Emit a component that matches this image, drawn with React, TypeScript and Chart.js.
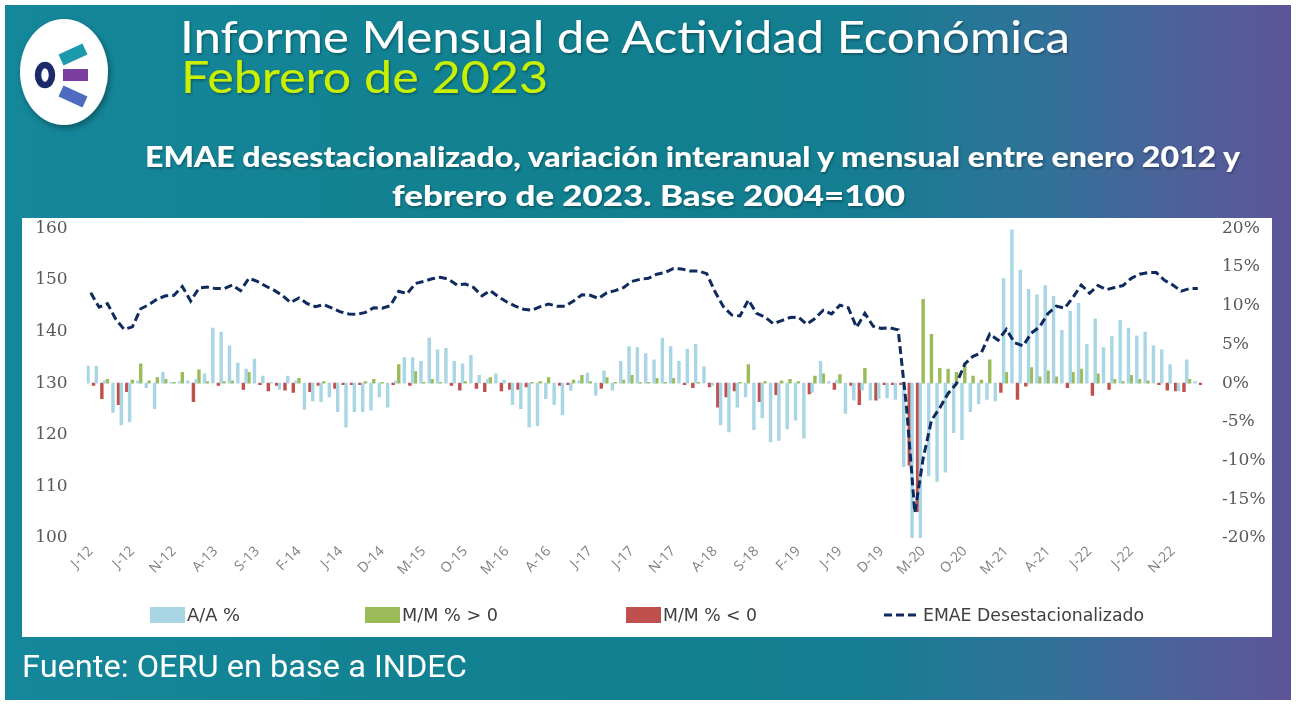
import React, { useEffect, useRef } from "react";
import { Chart, registerables } from "chart.js";

Chart.register(...registerables);

// ---- Data (Jan 2012 .. Feb 2023) ----
const MONTH_INITIALS = ["J", "F", "M", "A", "M", "J", "J", "A", "S", "O", "N", "D"];
const FIRST_YEAR_2D = 12;

// Interannual variation (A/A %)
const AA = [
  2.2, 2.2, 0.3, -3.8, -5.4, -5.0, 0.3, -0.6, -3.3, 1.4, 0.1, 0.2,
  0.3, 0.5, 1.2, 7.1, 6.6, 4.8, 2.6, 1.8, 3.1, 0.9, 0.1, -0.8,
  0.9, 0.3, -3.4, -2.3, -2.4, -1.8, -3.7, -5.7, -3.7, -3.7, -3.5, -1.8,
  -3.1, 0.3, 3.3, 3.3, 2.8, 5.8, 4.3, 4.5, 2.8, 2.5, 3.6, 1.0,
  0.5, 1.2, 0.4, -2.8, -3.3, -5.7, -5.5, -2.0, -2.8, -4.1, -0.9, 0.3,
  1.3, -1.6, 1.6, -0.9, 2.8, 4.7, 4.6, 3.8, 3.0, 5.8, 4.7, 2.8,
  4.4, 5.0, 2.1, -0.3, -5.4, -6.3, -3.1, -1.8, -6.0, -4.5, -7.6, -7.4,
  -5.9, -4.8, -7.1, -1.2, 2.8, 0.2, 0.4, -3.9, -2.2, -0.9, -2.2, -2.0,
  -1.9, -2.1, -10.8, -25.4, -20.0, -12.0, -12.7, -11.5, -6.4, -7.3, -3.7, -2.7,
  -2.1, -2.3, 13.5, 19.8, 14.6, 12.1, 11.4, 12.6, 11.2, 6.8, 9.3, 10.3,
  5.0, 8.3, 4.6, 6.0, 8.1, 7.1, 6.1, 6.6, 4.8, 4.3, 2.4, -1.0,
  3.0, 0.2,
];

// Monthly variation (M/M %)
const MM = [
  -0.3, -2.0, 0.5, -2.8, -1.1, 0.4, 2.5, 0.3, 0.7, 0.5, 0.1, 1.4,
  -2.4, 1.7, 0.2, -0.3, 0.2, 0.3, -0.8, 1.4, -0.2, -1.0, -0.3, -0.9,
  -1.2, 0.6, -1.1, -0.3, 0.2, -0.7, -0.2, -0.2, -0.2, 0.2, 0.5, 0.1,
  -0.2, 2.4, -0.3, 1.5, 0.1, 0.5, 0.1, -0.3, -0.9, 0.2, -0.7, -1.1,
  0.7, -1.0, -0.8, -0.8, -0.5, 0.1, 0.2, 0.7, -0.3, -0.2, 0.4, 1.0,
  0.2, -0.7, 0.7, 0.1, 0.4, 1.0, 0.1, 0.1, 0.6, 0.1, 0.6, -0.2,
  -0.6, 0.1, -0.5, -3.1, -1.8, -1.0, 0.1, 2.4, -2.4, 0.2, -1.5, 0.3,
  0.5, 0.2, -1.4, 0.9, 1.2, -0.8, 1.1, -0.3, -2.8, 1.9, -2.2, -0.2,
  -0.2, -0.2, -10.6, -16.6, 10.8, 6.3, 1.9, 1.8, 1.4, 2.4, 0.9, 0.4,
  3.0, -1.2, 1.4, -2.1, -0.4, 2.0, 0.8, 1.6, 0.8, -0.6, 1.4, 1.8,
  -1.6, 1.2, -0.8, 0.5, 0.2, 1.0, 0.5, 0.3, -0.2, -0.9, -1.0, -1.1,
  0.5, -0.2,
];

// EMAE seasonally adjusted (base 2004 = 100)
const EMAE = [
  147.5, 144.7, 145.4, 142.4, 140.4, 140.9, 144.4, 145.2, 146.3, 146.9, 147.0, 148.7,
  145.9, 148.4, 148.6, 148.3, 148.3, 149.0, 147.9, 150.3, 149.7, 148.8, 148.0, 147.0,
  145.6, 146.5, 145.4, 144.8, 145.2, 144.5, 143.8, 143.4, 143.3, 143.7, 144.6, 144.5,
  145.0, 147.8, 147.3, 149.3, 149.7, 150.2, 150.5, 150.1, 149.0, 149.2, 148.5, 146.9,
  147.9, 146.7, 145.7, 144.9, 144.3, 144.1, 144.8, 145.3, 144.9, 144.9, 145.9, 147.1,
  147.0, 146.4, 147.5, 147.9, 148.5, 149.7, 150.1, 150.3, 151.1, 151.4, 152.2, 152.1,
  151.7, 151.7, 151.2, 147.7, 144.8, 143.2, 143.0, 146.1, 143.5, 142.8, 141.5, 142.1,
  142.7, 142.8, 141.4, 142.5, 144.1, 143.4, 145.1, 144.6, 140.8, 143.5, 141.0, 140.6,
  140.7, 140.3, 125.4, 104.9, 115.4, 122.8, 125.2, 128.0, 129.9, 133.7, 135.2, 135.9,
  139.5, 138.3, 140.4, 137.8, 137.2, 139.7, 140.9, 143.5, 144.9, 144.5, 146.6, 149.0,
  147.4, 148.9, 148.1, 148.5, 148.9, 150.3, 151.1, 151.4, 151.4, 149.9, 149.0, 147.8,
  148.3, 148.3,
];

const LABELS = AA.map(
  (_, i) => `${MONTH_INITIALS[i % 12]}-${FIRST_YEAR_2D + Math.floor(i / 12)}`
);
const LABEL_STEP = 5;

const LEFT_MIN = 100;
const LEFT_MAX = 160;
const LEFT_STEP = 10;
const RIGHT_MIN = -20;
const RIGHT_MAX = 20;
const RIGHT_STEP = 5;

const SERIES_NAMES = ["A/A %", "M/M % > 0", "M/M % < 0", "EMAE Desestacionalizado"];

// ---- Styles ----
const BLUE = "#a8d6e4";
const GREEN = "#9bbb59";
const RED = "#c0504d";
const NAVY = "#0f2a5f";
const AXIS_TEXT = "#595959";
const SERIF = "'DejaVu Serif', 'Liberation Serif', serif";
const NARROW = "'Liberation Sans Narrow', 'DejaVu Sans Condensed', 'Roboto', sans-serif";

const BOX = { left: 22, top: 218, width: 1250, height: 419 };
const CANVAS_H = 400;
const PLOT_TOP_PAD = 10;
const PLOT_H = 310;
const LEFT_AXIS_W = 64.6;
const RIGHT_AXIS_W = 70;

export default function App() {
  const ref = useRef<HTMLCanvasElement>(null);

  useEffect(() => {
    if (!ref.current) return;
    const chart = new Chart(ref.current, {
      type: "bar",
      data: {
        labels: LABELS,
        datasets: [
          {
            type: "line",
            label: SERIES_NAMES[3],
            data: EMAE,
            yAxisID: "y",
            borderColor: NAVY,
            backgroundColor: NAVY,
            borderWidth: 3,
            borderDash: [8, 4],
            pointRadius: 0,
            tension: 0,
            fill: false,
            order: 0,
          } as any,
          {
            type: "bar",
            label: SERIES_NAMES[0],
            data: AA,
            yAxisID: "y1",
            backgroundColor: BLUE,
            categoryPercentage: 1,
            barPercentage: 1,
            clip: 0,
            order: 1,
          } as any,
          {
            type: "bar",
            label: SERIES_NAMES[1],
            data: MM.map((v) => (v > 0 ? v : null)),
            yAxisID: "y1",
            backgroundColor: GREEN,
            categoryPercentage: 1,
            barPercentage: 1,
            clip: 0,
            order: 1,
          } as any,
          {
            type: "bar",
            label: SERIES_NAMES[2],
            data: MM.map((v) => (v < 0 ? v : null)),
            yAxisID: "y1",
            backgroundColor: RED,
            categoryPercentage: 1,
            barPercentage: 1,
            clip: 0,
            order: 1,
          } as any,
        ],
      },
      options: {
        animation: false,
        responsive: false,
        devicePixelRatio: 1,
        layout: { padding: { top: PLOT_TOP_PAD, left: 0, right: 0, bottom: 0 } },
        plugins: {
          legend: { display: false },
          tooltip: { enabled: false },
        },
        scales: {
          x: {
            grid: { display: false, drawTicks: false },
            border: { display: false },
            ticks: {
              autoSkip: false,
              minRotation: 45,
              maxRotation: 45,
              padding: 5,
              color: "#7f7f7f",
              font: { family: "'Open Sans', sans-serif", size: 14 },
              callback: (_v: any, i: number) => (i % LABEL_STEP === 0 ? LABELS[i] : ""),
            },
            afterFit: (s: any) => {
              s.height = CANVAS_H - PLOT_TOP_PAD - PLOT_H;
            },
          },
          y: {
            position: "left",
            min: LEFT_MIN,
            max: LEFT_MAX,
            grid: { display: false, drawTicks: true, tickLength: 19 },
            border: { display: false },
            ticks: {
              stepSize: LEFT_STEP,
              padding: 0,
              color: AXIS_TEXT,
              font: { family: SERIF, size: 17 },
            },
            afterFit: (s: any) => {
              s.width = LEFT_AXIS_W;
            },
          },
          y1: {
            position: "right",
            min: RIGHT_MIN,
            max: RIGHT_MAX,
            grid: { display: false, drawTicks: true, tickLength: 20 },
            border: { display: false },
            ticks: {
              stepSize: RIGHT_STEP,
              padding: 0,
              color: AXIS_TEXT,
              font: { family: SERIF, size: 17 },
              callback: (v: any) => `${v}%`,
            },
            afterFit: (s: any) => {
              s.width = RIGHT_AXIS_W;
            },
          },
        },
      } as any,
    });
    return () => chart.destroy();
  }, []);

  const legendY = 615;
  const legendItems = [
    { kind: "box", color: BLUE, x: 150, tx: 187, tl: 53, text: SERIES_NAMES[0] },
    { kind: "box", color: GREEN, x: 365, tx: 402, tl: 96, text: SERIES_NAMES[1] },
    { kind: "box", color: RED, x: 626, tx: 663, tl: 94, text: SERIES_NAMES[2] },
    { kind: "line", color: NAVY, x: 884, tx: 923, tl: 221, text: SERIES_NAMES[3] },
  ];

  return (
    <div
      style={{
        position: "absolute",
        left: 0,
        top: 0,
        width: 1296,
        height: 705,
        background: "#ffffff",
        overflow: "hidden",
      }}
    >
      <div
        style={{
          position: "absolute",
          left: 5,
          top: 5,
          width: 1286,
          height: 695,
          background:
            "linear-gradient(90deg, #15879a 0%, #11808f 45%, #137e91 65%, #2f7399 80%, #4a6399 90%, #5d5599 100%)",
        }}
      />
      <div
        style={{
          position: "absolute",
          left: BOX.left,
          top: BOX.top,
          width: BOX.width,
          height: BOX.height,
          background: "#ffffff",
        }}
      />
      <canvas
        ref={ref}
        width={BOX.width}
        height={CANVAS_H}
        style={{
          position: "absolute",
          left: BOX.left,
          top: BOX.top,
          width: BOX.width,
          height: CANVAS_H,
          display: "block",
        }}
      />
      <svg
        width={1296}
        height={705}
        style={{ position: "absolute", left: 0, top: 0, pointerEvents: "none" }}
      >
        <defs>
          <filter id="sh" x="-10%" y="-10%" width="120%" height="140%">
            <feDropShadow dx="1" dy="1.5" stdDeviation="1.2" floodColor="#000" floodOpacity="0.35" />
          </filter>
          <filter id="lsh" x="-20%" y="-20%" width="140%" height="140%">
            <feDropShadow dx="2" dy="3" stdDeviation="3" floodColor="#000" floodOpacity="0.35" />
          </filter>
        </defs>

        {/* logo */}
        <ellipse cx={64} cy={72} rx={44} ry={53} fill="#ffffff" filter="url(#lsh)" />
        <line x1={61} y1={60} x2={85} y2={49} stroke="#1c9aab" strokeWidth={12} />
        <line x1={63} y1={75} x2={88} y2={75} stroke="#7b3f9f" strokeWidth={12} />
        <line x1={61} y1={91} x2={85} y2={102} stroke="#4d6cc0" strokeWidth={12} />
        <ellipse cx={45} cy={75} rx={7} ry={10} fill="#ffffff" stroke="#1d2a6a" strokeWidth={6.5} />

        {/* header */}
        <text
          x={180}
          y={53}
          fill="#ffffff"
          filter="url(#sh)"
          style={{ font: "400 45px Lato, sans-serif" }}
          textLength={890}
          lengthAdjust="spacingAndGlyphs"
        >
          Informe Mensual de Actividad Económica
        </text>
        <text
          x={181}
          y={93}
          fill="#c9f000"
          filter="url(#sh)"
          style={{ font: "400 45px Lato, sans-serif" }}
          textLength={367}
          lengthAdjust="spacingAndGlyphs"
        >
          Febrero de 2023
        </text>
        <text
          x={145}
          y={167}
          fill="#ffffff"
          filter="url(#sh)"
          style={{ font: "900 28px Lato, sans-serif" }}
          textLength={1095}
          lengthAdjust="spacingAndGlyphs"
        >
          EMAE desestacionalizado, variación interanual y mensual entre enero 2012 y
        </text>
        <text
          x={392}
          y={206}
          fill="#ffffff"
          filter="url(#sh)"
          style={{ font: "900 28px Lato, sans-serif" }}
          textLength={513}
          lengthAdjust="spacingAndGlyphs"
        >
          febrero de 2023. Base 2004=100
        </text>

        {/* legend */}
        {legendItems.map((it, k) => (
          <g key={k}>
            {it.kind === "box" ? (
              <rect x={it.x} y={legendY - 8} width={35} height={16} fill={it.color} />
            ) : (
              <line
                x1={it.x}
                y1={legendY}
                x2={it.x + 34}
                y2={legendY}
                stroke={it.color}
                strokeWidth={3}
                strokeDasharray="8 4"
              />
            )}
            <text
              x={it.tx}
              y={legendY + 6}
              fill="#404040"
              style={{ font: `400 17px ${NARROW}` }}
              textLength={it.tl}
              lengthAdjust="spacingAndGlyphs"
            >
              {it.text}
            </text>
          </g>
        ))}

        {/* source */}
        <text
          x={22}
          y={677}
          fill="#ffffff"
          style={{ font: "400 31px Roboto, sans-serif" }}
          textLength={445}
          lengthAdjust="spacingAndGlyphs"
        >
          Fuente: OERU en base a INDEC
        </text>
      </svg>
    </div>
  );
}
